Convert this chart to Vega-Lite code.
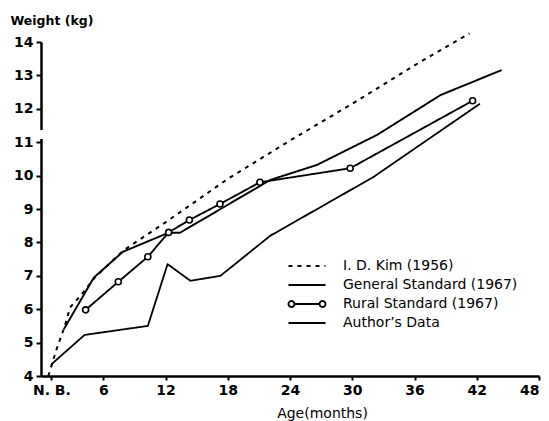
{
  "$schema": "https://vega.github.io/schema/vega-lite/v6.json",
  "width": 498,
  "height": 334,
  "autosize": "none",
  "padding": {"left": 41, "top": 42, "right": 10, "bottom": 45},
  "background": "white",
  "config": {
    "view": {"stroke": null},
    "font": "DejaVu Sans",
    "axis": {
      "grid": false,
      "domainColor": "black",
      "domainWidth": 2.5,
      "tickColor": "black",
      "tickWidth": 2,
      "labelColor": "black",
      "labelFont": "DejaVu Sans",
      "labelFontSize": 14,
      "labelFontWeight": "bold",
      "titleColor": "black",
      "titleFont": "DejaVu Sans"
    },
    "legend": {
      "orient": "none",
      "legendX": 259,
      "legendY": 217,
      "padding": 0,
      "symbolSize": 100,
      "symbolOpacity": 1,
      "symbolStrokeColor": "black",
      "symbolFillColor": "transparent",
      "labelOffset": 29,
      "labelFontSize": 14,
      "labelLimit": 400,
      "labelColor": "black",
      "labelFont": "DejaVu Sans",
      "rowPadding": 5
    }
  },
  "data": {
    "values": [
      {"series": "I. D. Kim (1956)", "age": 0.7, "weight": 4.0},
      {"series": "I. D. Kim (1956)", "age": 1.5, "weight": 4.8},
      {"series": "I. D. Kim (1956)", "age": 2.3, "weight": 5.5},
      {"series": "I. D. Kim (1956)", "age": 2.8, "weight": 6.05},
      {"series": "I. D. Kim (1956)", "age": 3.8, "weight": 6.4},
      {"series": "I. D. Kim (1956)", "age": 5.2, "weight": 6.95},
      {"series": "I. D. Kim (1956)", "age": 7.9, "weight": 7.75},
      {"series": "I. D. Kim (1956)", "age": 12, "weight": 8.6},
      {"series": "I. D. Kim (1956)", "age": 18, "weight": 9.9},
      {"series": "I. D. Kim (1956)", "age": 24, "weight": 11.05},
      {"series": "I. D. Kim (1956)", "age": 30, "weight": 12.15},
      {"series": "I. D. Kim (1956)", "age": 36, "weight": 13.3},
      {"series": "I. D. Kim (1956)", "age": 41.3, "weight": 14.26},
      {"series": "General Standard (1967)", "age": 2.2, "weight": 5.4},
      {"series": "General Standard (1967)", "age": 5.1, "weight": 6.95},
      {"series": "General Standard (1967)", "age": 7.9, "weight": 7.72},
      {"series": "General Standard (1967)", "age": 12.3, "weight": 8.29},
      {"series": "General Standard (1967)", "age": 13.4, "weight": 8.29},
      {"series": "General Standard (1967)", "age": 22.1, "weight": 9.87},
      {"series": "General Standard (1967)", "age": 26.6, "weight": 10.32},
      {"series": "General Standard (1967)", "age": 32.4, "weight": 11.22},
      {"series": "General Standard (1967)", "age": 36.2, "weight": 11.96},
      {"series": "General Standard (1967)", "age": 38.5, "weight": 12.41},
      {"series": "General Standard (1967)", "age": 44.4, "weight": 13.16},
      {"series": "Rural Standard (1967)", "age": 4.3, "weight": 5.98},
      {"series": "Rural Standard (1967)", "age": 7.45, "weight": 6.82},
      {"series": "Rural Standard (1967)", "age": 10.3, "weight": 7.57},
      {"series": "Rural Standard (1967)", "age": 12.3, "weight": 8.3},
      {"series": "Rural Standard (1967)", "age": 14.3, "weight": 8.67},
      {"series": "Rural Standard (1967)", "age": 17.25, "weight": 9.15},
      {"series": "Rural Standard (1967)", "age": 21.1, "weight": 9.8},
      {"series": "Rural Standard (1967)", "age": 29.8, "weight": 10.22},
      {"series": "Rural Standard (1967)", "age": 41.6, "weight": 12.24},
      {"series": "Author’s Data", "age": 1.0, "weight": 4.35},
      {"series": "Author’s Data", "age": 4.2, "weight": 5.23},
      {"series": "Author’s Data", "age": 10.3, "weight": 5.5},
      {"series": "Author’s Data", "age": 12.2, "weight": 7.35},
      {"series": "Author’s Data", "age": 14.4, "weight": 6.85},
      {"series": "Author’s Data", "age": 17.3, "weight": 7.0},
      {"series": "Author’s Data", "age": 22.1, "weight": 8.2},
      {"series": "Author’s Data", "age": 32, "weight": 9.95},
      {"series": "Author’s Data", "age": 42.3, "weight": 12.15}
    ]
  },
  "encoding": {
    "x": {
      "field": "age",
      "type": "quantitative",
      "scale": {"domain": [0, 48], "nice": false, "zero": false},
      "axis": {
        "values": [1, 6, 12, 18, 24, 30, 36, 42, 48],
        "labelExpr": "datum.value == 1 ? 'N. B.' : datum.label",
        "tickSize": 4,
        "labelPadding": 3,
        "title": "Age(months)",
        "titleFontSize": 14,
        "titleFontWeight": "normal",
        "titleX": 281,
        "titleY": 37,
        "titleBaseline": "middle"
      }
    },
    "y": {
      "field": "weight",
      "type": "quantitative",
      "scale": {"domain": [4, 14], "nice": false, "zero": false},
      "axis": {
        "values": [4, 5, 6, 7, 8, 9, 10, 11, 12, 13, 14],
        "tickSize": 5,
        "labelPadding": 3,
        "title": "Weight (kg)",
        "titleAngle": 0,
        "titleAlign": "left",
        "titleBaseline": "middle",
        "titleX": -31,
        "titleY": -22,
        "titleFontSize": 12.5,
        "titleFontWeight": "bold"
      }
    }
  },
  "layer": [
    {
      "mark": {"type": "line", "color": "black", "strokeJoin": "round"},
      "encoding": {
        "strokeDash": {
          "field": "series",
          "type": "nominal",
          "scale": {
            "domain": ["I. D. Kim (1956)", "General Standard (1967)", "Rural Standard (1967)", "Author’s Data"],
            "range": [[4, 5], [1, 0], [1, 0], [1, 0]]
          },
          "legend": {"title": null}
        },
        "strokeWidth": {
          "field": "series",
          "type": "nominal",
          "scale": {
            "domain": ["I. D. Kim (1956)", "General Standard (1967)", "Rural Standard (1967)", "Author’s Data"],
            "range": [2, 1.8, 1.4, 3]
          },
          "legend": {"title": null}
        }
      }
    },
    {
      "transform": [{"filter": "datum.series == 'Rural Standard (1967)'"}],
      "mark": {"type": "point", "shape": "circle", "filled": true, "fill": "white", "stroke": "black", "strokeWidth": 1.6, "size": 36, "opacity": 1},
      "encoding": {}
    },
    {
      "mark": {"type": "point", "filled": false, "opacity": 0, "stroke": "black"},
      "encoding": {
        "shape": {
          "field": "series",
          "type": "nominal",
          "scale": {
            "domain": ["I. D. Kim (1956)", "General Standard (1967)", "Rural Standard (1967)", "Author’s Data"],
            "range": [
              "M-3.7,0H3.7",
              "M-3.7,0H3.7",
              "M-3.7,0A0.6,0.6,0,1,0,-2.5,0A0.6,0.6,0,1,0,-3.7,0M-2.5,0H2.5M2.5,0A0.6,0.6,0,1,0,3.7,0A0.6,0.6,0,1,0,2.5,0",
              "M-3.7,0H3.7"
            ]
          },
          "legend": {"title": null}
        }
      }
    },
    {
      "mark": {"type": "rule", "color": "white", "strokeWidth": 5, "clip": false},
      "encoding": {
        "x": {"datum": 0},
        "y": {"datum": 11.12},
        "y2": {"datum": 11.36}
      }
    }
  ]
}
